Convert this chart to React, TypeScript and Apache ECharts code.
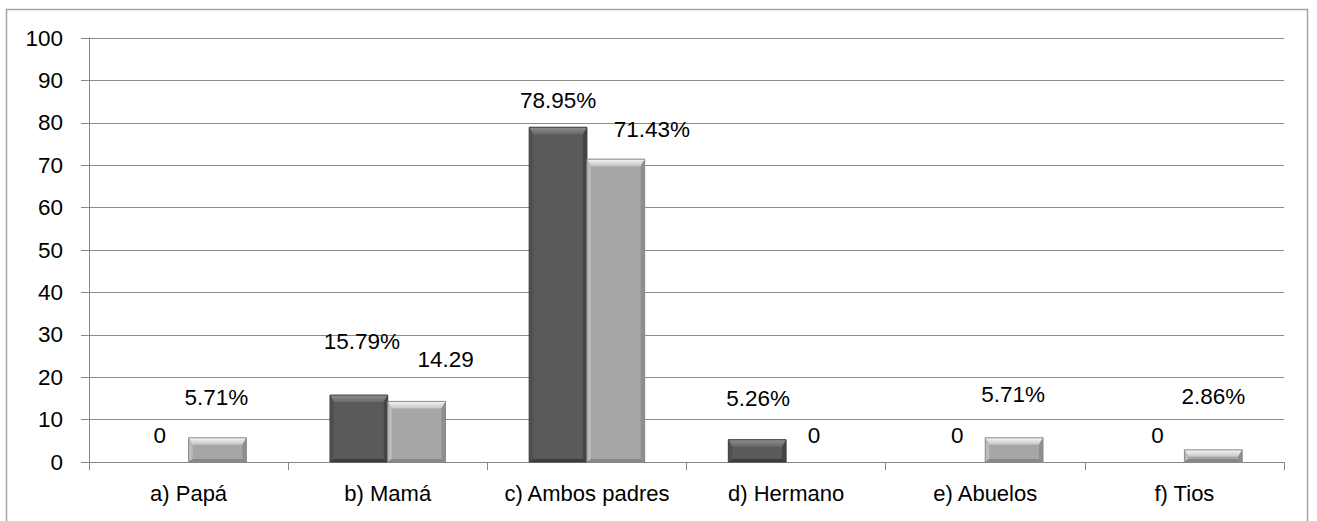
import React, { useEffect, useRef } from "react";
import * as echarts from "echarts";

const categories = ["a) Papá", "b) Mamá", "c) Ambos padres", "d) Hermano", "e) Abuelos", "f) Tios"];
const seriesDark = [0, 15.79, 78.95, 5.26, 0, 0];
const seriesLight = [5.71, 14.29, 71.43, 0, 5.71, 2.86];
const labelsDark = ["0", "15.79%", "78.95%", "5.26%", "0", "0"];
const labelsLight = ["5.71%", "14.29", "71.43%", "0", "5.71%", "2.86%"];
const yTicks = { min: 0, max: 100, interval: 10 };

// label placement tweaks (pixels) — styling, not data
const darkShiftX = [0, 3, 0, 1, 1, 2];
const darkRise = [27, 54, 27, 41, 27, 27];
const lightShiftX = [-1, 29, 36, -1, -1, 0];
const lightRise = [40, 42, 30, 27, 43, 53];

const FONT = "'Liberation Sans', Arial, sans-serif";

type Palette = {
  face: string;
  top: [string, string];
  left: string;
  right: string;
  bottom: string;
  stroke: string;
};

const darkPal: Palette = {
  face: "#5a5a5a",
  top: ["#8e8e8e", "#6a6a6a"],
  left: "#505050",
  right: "#454545",
  bottom: "#3c3c3c",
  stroke: "#3f3f3f",
};
const lightPal: Palette = {
  face: "#a6a6a6",
  top: ["#f6f6f6", "#c4c4c4"],
  left: "#bcbcbc",
  right: "#8e8e8e",
  bottom: "#878787",
  stroke: "#8a8a8a",
};

function makeRender(side: "dark" | "light", labels: string[], shiftX: number[], rise: number[], pal: Palette) {
  return (params: any, api: any) => {
    const i = params.dataIndex;
    const idx = api.value(0);
    const val = api.value(1);
    const [cx, yTop] = api.coord([idx, val]);
    const [, y0] = api.coord([idx, 0]);
    const band = api.size([1, 0])[0];
    const w = band * 0.29;
    const x0 = side === "dark" ? cx - w : cx;
    const x1 = x0 + w;
    const h = y0 - yTop;
    const children: any[] = [];
    if (h > 0.5) {
      let t = 7;
      let b = 3;
      const s = 4;
      if (h < t + b + 2) {
        t = h * 0.6;
        b = h * 0.25;
      }
      children.push({
        type: "rect",
        shape: { x: x0, y: yTop, width: w, height: h },
        style: { fill: pal.face },
      });
      children.push({
        type: "polygon",
        shape: { points: [[x0, yTop], [x1, yTop], [x1 - s, yTop + t], [x0 + s, yTop + t]] },
        style: {
          fill: new echarts.graphic.LinearGradient(0, 0, 0, 1, [
            { offset: 0, color: pal.top[0] },
            { offset: 1, color: pal.top[1] },
          ]),
        },
      });
      children.push({
        type: "polygon",
        shape: { points: [[x0, yTop], [x0 + s, yTop + t], [x0 + s, y0 - b], [x0, y0]] },
        style: { fill: pal.left },
      });
      children.push({
        type: "polygon",
        shape: { points: [[x1, yTop], [x1, y0], [x1 - s, y0 - b], [x1 - s, yTop + t]] },
        style: { fill: pal.right },
      });
      children.push({
        type: "polygon",
        shape: { points: [[x0, y0], [x0 + s, y0 - b], [x1 - s, y0 - b], [x1, y0]] },
        style: { fill: pal.bottom },
      });
      children.push({
        type: "rect",
        shape: { x: x0, y: yTop, width: w, height: h },
        style: { fill: "none", stroke: pal.stroke, lineWidth: 1 },
      });
    }
    children.push({
      type: "text",
      x: x0 + w / 2 + shiftX[i],
      y: yTop - rise[i],
      style: {
        text: labels[i],
        fill: "#000",
        fontSize: 22.5,
        fontFamily: FONT,
        align: "center",
        verticalAlign: "middle",
      },
    });
    return { type: "group", children };
  };
}

export default function App() {
  const ref = useRef<HTMLDivElement>(null);
  useEffect(() => {
    document.body.style.margin = "0";
    const chart = echarts.init(ref.current!, null, { renderer: "svg" });
    chart.setOption({
      animation: false,
      backgroundColor: "#ffffff",
      textStyle: { fontFamily: FONT },
      grid: { left: 89, top: 38, right: 33, bottom: 59, containLabel: false },
      graphic: [
        {
          type: "rect",
          shape: { x: 6.5, y: 9.5, width: 1301, height: 530 },
          style: { fill: "none", stroke: "#a3a3a3", lineWidth: 1.5 },
          silent: true,
          z: -1,
        },
      ],
      xAxis: {
        type: "category",
        data: categories,
        axisLine: { lineStyle: { color: "#868686", width: 1 } },
        axisTick: { show: true, length: 8, lineStyle: { color: "#868686" } },
        axisLabel: { color: "#000", fontSize: 22, fontFamily: FONT, margin: 20, interval: 0 },
        splitLine: { show: false },
      },
      yAxis: {
        type: "value",
        min: yTicks.min,
        max: yTicks.max,
        interval: yTicks.interval,
        axisLine: { show: true, lineStyle: { color: "#868686", width: 1 } },
        axisTick: { show: true, length: 8, lineStyle: { color: "#868686" } },
        axisLabel: { color: "#000", fontSize: 22.5, fontFamily: FONT, margin: 26 },
        splitLine: { show: true, lineStyle: { color: "#8c8c8c", width: 1 } },
      },
      series: [
        {
          type: "custom",
          name: "dark",
          renderItem: makeRender("dark", labelsDark, darkShiftX, darkRise, darkPal),
          data: seriesDark.map((v, i) => [i, v]),
          encode: { x: 0, y: 1 },
          clip: false,
          silent: true,
          z: 3,
        },
        {
          type: "custom",
          name: "light",
          renderItem: makeRender("light", labelsLight, lightShiftX, lightRise, lightPal),
          data: seriesLight.map((v, i) => [i, v]),
          encode: { x: 0, y: 1 },
          clip: false,
          silent: true,
          z: 3,
        },
      ],
    });
    return () => chart.dispose();
  }, []);
  return (
    <div
      ref={ref}
      style={{ position: "absolute", left: 0, top: 0, width: 1317, height: 521, background: "#fff" }}
    />
  );
}
